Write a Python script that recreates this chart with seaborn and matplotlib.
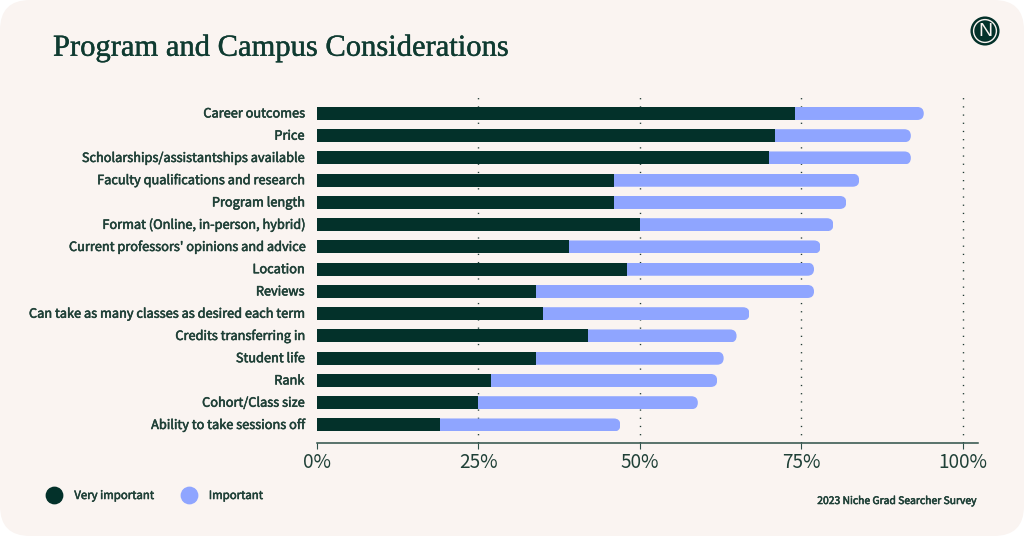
import matplotlib
matplotlib.use("Agg")
import matplotlib.pyplot as plt
import matplotlib.patheffects as pe
import seaborn as sns
import pandas as pd
from matplotlib.patches import FancyBboxPatch, Circle
from matplotlib.lines import Line2D
from matplotlib.transforms import IdentityTransform, ScaledTranslation

categories = ["Career outcomes", "Price", "Scholarships/assistantships available",
              "Faculty qualifications and research", "Program length",
              "Format (Online, in-person, hybrid)", "Current professors' opinions and advice",
              "Location", "Reviews", "Can take as many classes as desired each term",
              "Credits transferring in", "Student life", "Rank", "Cohort/Class size",
              "Ability to take sessions off"]
very_important = [74, 71, 70, 46, 46, 50, 39, 48, 34, 35, 42, 34, 27, 25, 19]
important = [20, 21, 22, 38, 36, 30, 39, 29, 43, 32, 23, 29, 35, 34, 28]
ticks = [0, 25, 50, 75, 100]
tick_labels = ["0%", "25%", "50%", "75%", "100%"]

DARK = "#03312A"; LIGHT = "#8FA5FF"; BG = "#FAF4F1"; TXT = "#1F4037"
W, H = 1024, 536
sns.set_theme(style="white")
sans = ["Noto Sans CJK SC", "DejaVu Sans"]
plt.rcParams["font.family"] = sans

df = pd.DataFrame({"category": categories, "very": very_important, "imp": important})
df["total"] = df["very"] + df["imp"]

def semi(c=TXT, w=0.4):
    return [pe.withStroke(linewidth=w, foreground=c)]

fig = plt.figure(figsize=(W / 100, H / 100), dpi=100, facecolor="white")
card = FancyBboxPatch((0, 0), W, H, boxstyle="round,pad=0,rounding_size=30",
                      transform=IdentityTransform(), fc=BG, ec="none", zorder=-5)
fig.patches.append(card); card.set_figure(fig)

def px(x0, y0, x1, y1):
    return [x0 / W, 1 - y1 / H, (x1 - x0) / W, (y1 - y0) / H]

ax = fig.add_axes(px(317, 97, 978, 443))
ax.patch.set_alpha(0)
sns.barplot(data=df, y="category", x="total", color=LIGHT, width=0.585, saturation=1, ax=ax, zorder=3, linewidth=0)
n_light = len(ax.patches)
sns.barplot(data=df, y="category", x="very", color=DARK, width=0.585, saturation=1, ax=ax, zorder=4, linewidth=0)
ax.set_xlim(0, 661 / 6.455)
ax.set_ylim(14.81, -0.74)
ax.set_xlabel(""); ax.set_ylabel("")

# rounded right ends of the light bars
fig.canvas.draw()
for bar in ax.patches[:n_light]:
    e = bar.get_window_extent()
    r = e.height / 2
    clip = FancyBboxPatch((e.x0, e.y0), e.width, e.height,
                          boxstyle=f"round,pad=0,rounding_size={r}",
                          transform=IdentityTransform(), fc="none", ec="none")
    bar.set_clip_path(clip)

for s in ["top", "left", "right"]:
    ax.spines[s].set_visible(False)
ax.spines["bottom"].set_color("#2C4F47")
ax.spines["bottom"].set_linewidth(1.1)
ax.set_xticks(ticks, tick_labels)
ax.tick_params(axis="x", length=4, width=0.8, color="#2C4F47", labelsize=13.7, labelcolor=TXT, pad=2.5, bottom=True)
ax.tick_params(axis="y", length=0, pad=9.1, labelsize=9.2, labelcolor=TXT)
up = ScaledTranslation(0, 1 / 100, fig.dpi_scale_trans)
for t in ax.get_yticklabels():
    t.set_path_effects(semi())
    t.set_transform(t.get_transform() + up)
for v in ticks[1:]:
    ax.axvline(v, color="#1F3A33", lw=1.0, ls=(0, (0.9, 5.0)), zorder=1)

fig.text(53 / W, 1 - 48 / H, "Program and Campus Considerations", family=["Liberation Serif"],
         fontsize=22, color="#0F3B31", va="center", ha="left", path_effects=semi("#0F3B31", 0.3))
fig.text(977 / W, 1 - 501 / H, "2023 Niche Grad Searcher Survey", fontsize=7.45,
         color=TXT, ha="right", va="center", path_effects=semi())

handles = [Line2D([], [], ls="", marker="o", ms=11.8, color=DARK),
           Line2D([], [], ls="", marker="o", ms=11.8, color=LIGHT)]
leg = fig.legend(handles, ["Very important", "Important"], loc="center left",
                 bbox_to_anchor=(43 / W, 1 - 496 / H), frameon=False, ncol=2,
                 prop={"size": 8.2}, labelcolor=TXT,
                 handletextpad=0.75, columnspacing=2.1, borderpad=0, borderaxespad=0)
for t in leg.get_texts():
    t.set_path_effects(semi())

# logo
logo = fig.add_axes(px(970, 16, 1000, 46))
logo.set_xlim(-1, 1); logo.set_ylim(-1, 1); logo.axis("off")
logo.add_patch(Circle((0, 0), 0.97, fc=DARK, ec="none"))
logo.add_patch(Circle((0, 0), 0.76, fc="none", ec=BG, lw=1.0))
logo.text(0, -0.03, "N", color=BG, fontsize=14, ha="center", va="center", family=["Liberation Sans"])

fig.savefig("out.png", dpi=100, facecolor=fig.get_facecolor())
